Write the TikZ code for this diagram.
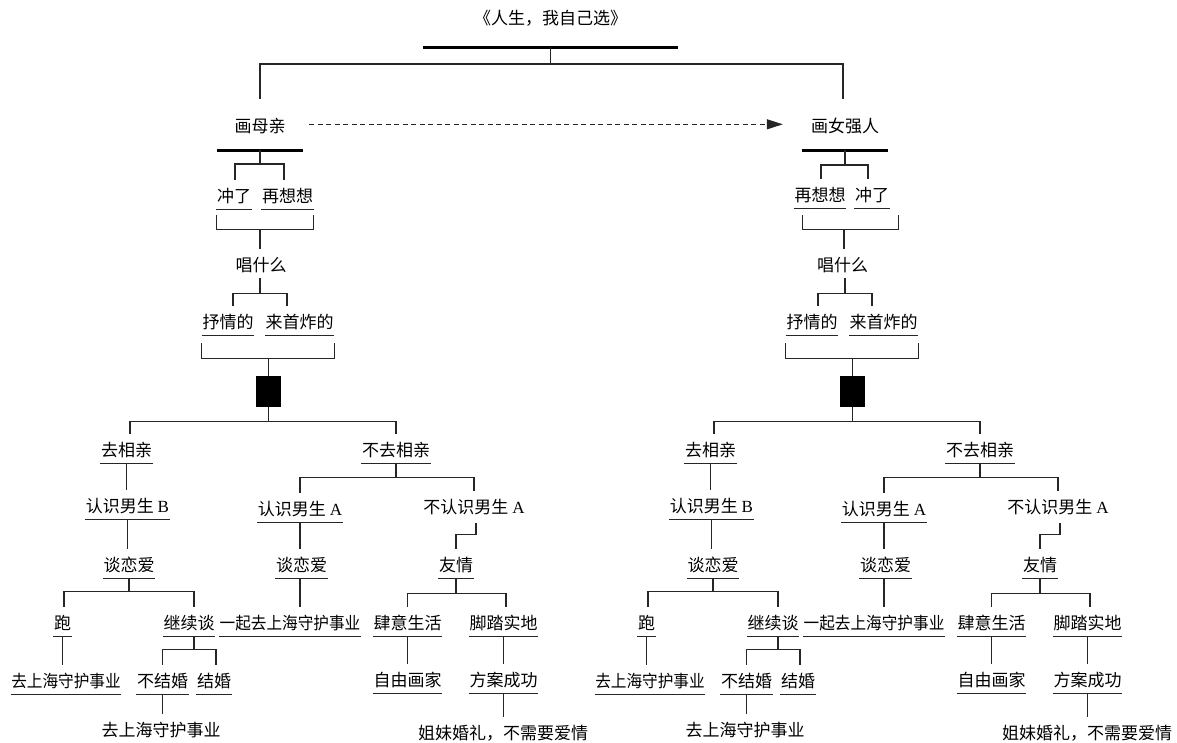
\documentclass[tikz,border=0pt]{standalone}
\usepackage{fontspec}
\usepackage{graphicx}
\setmainfont{Liberation Serif}
\newfontfamily\cjk{Noto Sans CJK SC}
\usetikzlibrary{calc,arrows.meta}
\begin{document}
\begin{tikzpicture}[x=1pt,y=-1pt,
  ln/.style={line width=1.1pt, black!85},
  topbar/.style={line width=3pt, black},
  lbl/.style={font=\cjk\fontsize{17}{20}\selectfont, inner xsep=0.5pt, inner ysep=3.5pt, text height=19pt, text depth=3pt},
  blk/.style={fill=black, draw=none, minimum width=25, minimum height=31, inner sep=0pt},
  dashline/.style={ln, dash pattern=on 5pt off 3.5pt},
]
\fill[white] (0,0) rectangle (1177,742);
\useasboundingbox (0,0) rectangle (1177,742);

% ---------- top ----------
\node[lbl, minimum width=255, minimum height=61, anchor=south] (title) at (550.5,47) {《人生，我自己选》};
\draw[topbar] (title.south west) -- (title.south east);
\node[lbl, minimum width=86, minimum height=51, anchor=south] (m) at (260,150) {画母亲};
\draw[topbar] (m.south west) -- (m.south east);
\node[lbl, minimum width=86, minimum height=51, anchor=south] (f) at (845,150) {画女强人};
\draw[topbar] (f.south west) -- (f.south east);
\draw[ln] (title.south) -- ++(0,17) -| (m.north);
\draw[ln] ($(title.south)+(0,17)$) -| ($(f.north)+(-2,0)$);
\draw[dashline, -{Triangle[length=16pt,width=10pt]}, shorten <=6pt, shorten >=19pt] (m.east) -- (f.west);

% ---------- upper left ----------
\node[lbl] (L-c1) at (234,194.5) {冲了};
\node[lbl] (L-c2) at (287.5,194.5) {再想想};
\draw[ln] (m.south) -- ++(0,14) -| ($(L-c1.north)+(1,0)$);
\draw[ln] ($(m.south)+(0,14)$) -| ($(L-c2.north)+(-3.5,0)$);
\draw[ln] ($(L-c1.south west)+(0,6)$) -- ++(0,14) -| ($(L-c2.south east)+(0,6)$);
\node[lbl] (L-s) at (261,263.5) {唱什么};
\draw[ln] ($(L-s.north)+(-1,0)$) -- ++(0,-20);
\node[lbl] (L-p1) at (228,320.5) {抒情的};
\node[lbl] (L-p2) at (299.5,320.5) {来首炸的};
\draw[ln] ($(L-s.south)+(-1,0)$) -- ++(0,15) -| ($(L-p1.north)+(5,0)$);
\draw[ln] ($(L-s.south)+(-1,15)$) -| ($(L-p2.north)+(-12.5,0)$);
\draw[ln] ($(L-p1.south west)+(0,8)$) -- ++(0,15) -| ($(L-p2.south east)+(0,8)$);
\node[blk] (L-box) at (268.5,391.5) {};
\draw[ln] (L-box.north) -- ++(0,-18);

% ---------- upper right ----------
\node[lbl] (R-c1) at (820,193.5) {再想想};
\node[lbl] (R-c2) at (872,193.5) {冲了};
\draw[ln] (f.south) -- ++(0,15) -| ($(R-c1.north)+(1,0)$);
\draw[ln] ($(f.south)+(0,15)$) -| ($(R-c2.north)+(-4,0)$);
\draw[ln] ($(R-c1.south west)+(9,7)$) -- ++(0,14) -| ($(R-c2.south east)+(9,7)$);
\node[lbl] (R-s) at (842.5,263.5) {唱什么};
\draw[ln] ($(R-s.north)+(1.5,0)$) -- ++(0,-20);
\node[lbl] (R-p1) at (812,320.5) {抒情的};
\node[lbl] (R-p2) at (883.5,320.5) {来首炸的};
\draw[ln] ($(R-s.south)+(2.5,0)$) -- ++(0,15) -| ($(R-p1.north)+(6,0)$);
\draw[ln] ($(R-s.south)+(2.5,15)$) -| ($(R-p2.north)+(-11.5,0)$);
\draw[ln] ($(R-p1.south west)+(0,8)$) -- ++(0,15) -| ($(R-p2.south east)+(0,8)$);
\node[blk] (R-box) at (852.5,391.5) {};
\draw[ln] (R-box.north) -- ++(0,-18);

\foreach \n in {L-c1,L-c2,L-p1,L-p2,R-c1,R-c2,R-p1,R-p2}
  \draw[ln] (\n.south west) -- (\n.south east);

% ---------- lower trees ----------
\foreach \side/\dx in {L/0,R/584}{
  \begin{scope}[xshift=\dx]
    \node[lbl] (\side-g)   at (126.5,448.5) {去相亲};
    \node[lbl] (\side-b)   at (127.5,504.5) {认识男生 \textrm{B}};
    \node[lbl] (\side-t)   at (129,563.5)   {谈恋爱};
    \node[lbl] (\side-run) at (62.5,621.5)  {跑};
    \node[lbl] (\side-sh1) at (66,679.5)    {\scalebox{0.92}[1]{去上海守护事业}};
    \node[lbl] (\side-k)   at (189,621.5)   {继续谈};
    \node[lbl] (\side-nm)  at (162.5,679.5) {不结婚};
    \node[lbl] (\side-mar) at (214,679.5)   {结婚};
    \node[lbl] (\side-sh2) at (161,728.5)   {去上海守护事业};
    \node[lbl] (\side-ng)  at (396,448.5)   {不去相亲};
    \node[lbl] (\side-ka)  at (300,507.5)   {认识男生 \textrm{A}};
    \node[lbl] (\side-t2)  at (301.5,563.5) {谈恋爱};
    \node[lbl] (\side-tog) at (290,621.5)   {\scalebox{0.92}[1]{一起去上海守护事业}};
    \node[lbl] (\side-nka) at (474,505.5)   {不认识男生 \textrm{A}};
    \node[lbl] (\side-fr)  at (456,563.5)   {友情};
    \node[lbl] (\side-fl)  at (407.5,621.5) {肆意生活};
    \node[lbl] (\side-jt)  at (503.5,621.5) {脚踏实地};
    \node[lbl] (\side-art) at (407.5,678.5) {自由画家};
    \node[lbl] (\side-ok)  at (503.5,678.5) {方案成功};
    \node[lbl] (\side-wed) at (503,731.5)   {姐妹婚礼，不需要爱情};
  \end{scope}
  \foreach \n in {g,b,t,run,sh1,k,nm,mar,ng,ka,t2,tog,fr,fl,jt,art,ok}
    \draw[ln] (\side-\n.south west) -- (\side-\n.south east);
  \draw[ln] (\side-box.south) -- ++(0,14) -| ($(\side-g.north)+(3.5,0)$);
  \draw[ln] ($(\side-box.south)+(0,14)$) -| (\side-ng.north);
  \draw[ln] (\side-g.south) -- (\side-g.south |- \side-b.north);
  \draw[ln] (\side-b.south) -- (\side-b.south |- \side-t.north);
  \draw[ln] (\side-t.south) -- ++(0,13) -| ($(\side-run.north)+(1.5,0)$);
  \draw[ln] ($(\side-t.south)+(0,13)$) -| ($(\side-k.north)+(5,0)$);
  \draw[ln] (\side-run.south) -- (\side-run.south |- \side-sh1.north);
  \draw[ln] ($(\side-k.south)+(5,0)$) -- ++(0,13) -| (\side-nm.north);
  \draw[ln] ($(\side-k.south)+(5,13)$) -| ($(\side-mar.north)+(2,0)$);
  \draw[ln] (\side-nm.south) -- (\side-nm.south |- \side-sh2.north);
  \draw[ln] (\side-ng.south) -- ++(0,14) -| (\side-ka.north);
  \draw[ln] ($(\side-ng.south)+(0,14)$) -| (\side-nka.north);
  \draw[ln] (\side-ka.south) -- (\side-ka.south |- \side-t2.north);
  \draw[ln] ($(\side-t2.south)+(-1.5,0)$) -- ($(\side-tog.north)+(10,0)$);
  \draw[ln] ($(\side-nka.south)+(2,3)$) |- ($(\side-fr.north)+(0,-14)$) -- (\side-fr.north);
  \draw[ln] (\side-fr.south) -- ++(0,15) -| (\side-fl.north);
  \draw[ln] ($(\side-fr.south)+(0,15)$) -| ($(\side-jt.north)+(2.5,0)$);
  \draw[ln] (\side-fl.south) -- (\side-fl.south |- \side-art.north);
  \draw[ln] (\side-jt.south) -- (\side-jt.south |- \side-ok.north);
  \draw[ln] (\side-ok.south) -- (\side-ok.south |- \side-wed.north);
}
\end{tikzpicture}
\end{document}
